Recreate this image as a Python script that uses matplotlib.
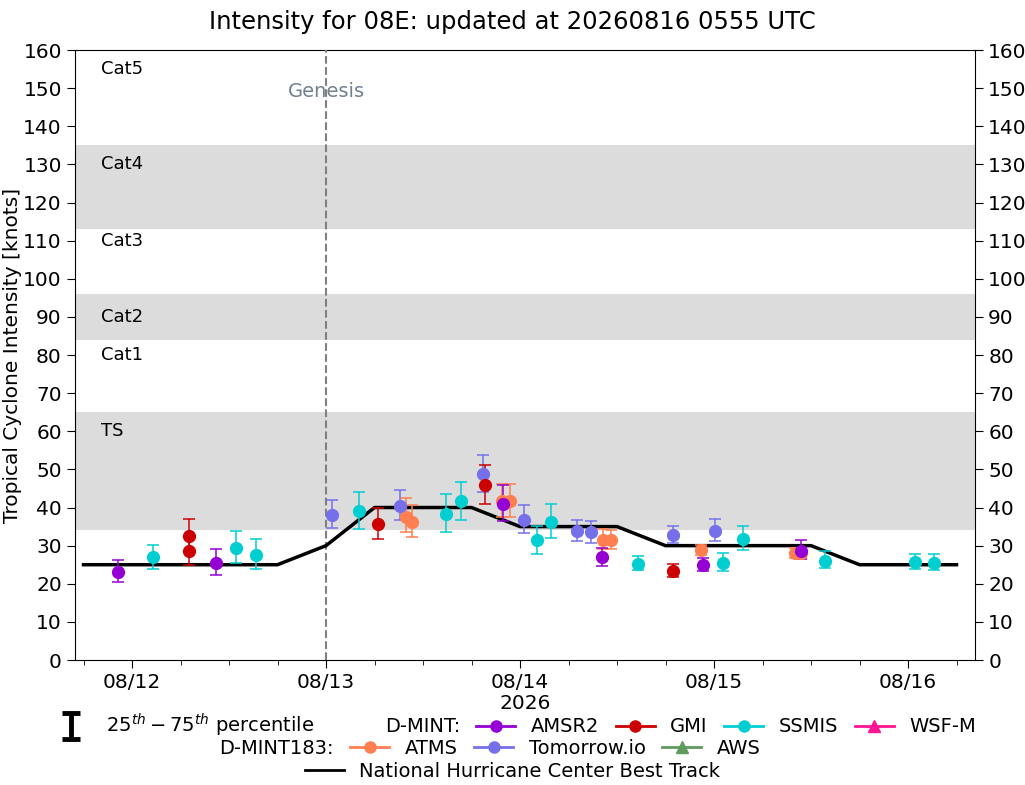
import matplotlib
matplotlib.use("Agg")
import matplotlib.pyplot as plt
import matplotlib.dates as mdates
import numpy as np
import pandas as pd
from matplotlib.lines import Line2D
from matplotlib.path import Path
from matplotlib.transforms import blended_transform_factory

# NHC best track
bt_times = pd.date_range("2026-08-11 18:00", "2026-08-16 06:00", freq="6h")
bt_vmax = [25, 25, 25, 25, 25, 30, 40, 40, 40, 35, 35, 35, 30, 30, 30, 30, 25, 25, 25]

# D-MINT estimates: time, median, 25th, 75th percentile
amsr2_t = ["2026-08-11 22:18", "2026-08-12 10:26", "2026-08-13 21:53",
           "2026-08-14 10:09", "2026-08-14 22:40", "2026-08-15 10:43"]
amsr2_v = [23.0, 25.4, 40.9, 26.9, 24.8, 28.7]
amsr2_lo = [20.4, 22.2, 36.5, 24.6, 23.3, 26.5]
amsr2_hi = [26.2, 29.0, 45.8, 29.5, 26.8, 31.5]

gmi_t = ["2026-08-12 07:05", "2026-08-12 07:05", "2026-08-13 06:28",
         "2026-08-13 19:42", "2026-08-14 18:58"]
gmi_v = [28.5, 32.5, 35.8, 45.9, 23.3]
gmi_lo = [24.8, 28.5, 31.7, 40.9, 21.9]
gmi_hi = [32.5, 37.0, 40.0, 51.1, 25.1]

ssmis_t = ["2026-08-12 02:38", "2026-08-12 12:55", "2026-08-12 15:17",
           "2026-08-13 04:07", "2026-08-13 14:53", "2026-08-13 16:43",
           "2026-08-14 02:08", "2026-08-14 03:52", "2026-08-14 14:38",
           "2026-08-15 01:09", "2026-08-15 03:37", "2026-08-15 13:47",
           "2026-08-16 00:54", "2026-08-16 03:13"]
ssmis_v = [27.0, 29.4, 27.5, 39.1, 38.2, 41.6, 31.5, 36.2, 25.1, 25.4, 31.7, 26.1, 25.6, 25.5]
ssmis_lo = [24.0, 25.4, 23.8, 34.4, 33.5, 36.6, 27.7, 31.9, 23.6, 23.3, 28.8, 24.1, 23.8, 23.6]
ssmis_hi = [30.3, 33.8, 31.7, 44.0, 43.5, 46.6, 35.1, 40.8, 27.2, 28.0, 35.1, 28.5, 27.8, 27.8]

wsfm_t, wsfm_v, wsfm_lo, wsfm_hi = [], [], [], []

# D-MINT183 estimates
atms_t = ["2026-08-13 09:56", "2026-08-13 10:40", "2026-08-13 21:45",
          "2026-08-13 22:48", "2026-08-14 10:19", "2026-08-14 11:15",
          "2026-08-14 22:26", "2026-08-15 10:02", "2026-08-15 10:43"]
atms_v = [37.6, 36.2, 41.8, 41.7, 31.6, 31.5, 28.8, 28.2, 28.0]
atms_lo = [33.5, 32.2, 37.4, 37.4, 29.1, 29.1, 27.5, 26.7, 26.7]
atms_hi = [42.6, 40.6, 46.1, 46.1, 34.3, 34.0, 30.1, 29.5, 29.3]

tio_t = ["2026-08-13 00:47", "2026-08-13 09:11", "2026-08-13 19:25",
         "2026-08-14 00:27", "2026-08-14 07:05", "2026-08-14 08:49",
         "2026-08-14 18:58", "2026-08-15 00:05"]
tio_v = [38.0, 40.3, 48.7, 36.6, 33.8, 33.5, 32.8, 33.8]
tio_lo = [34.5, 36.7, 44.2, 33.2, 31.1, 30.6, 30.7, 31.2]
tio_hi = [42.1, 44.5, 53.8, 40.6, 36.6, 36.4, 35.1, 36.9]

aws_t, aws_v, aws_lo, aws_hi = [], [], [], []

genesis_time = pd.Timestamp("2026-08-13 00:00")

# intensity bands
band_names = ["TS", "Cat1", "Cat2", "Cat3", "Cat4", "Cat5"]
band_lo = [34, 65, 84, 96, 113, 135]
band_hi = [65, 84, 96, 113, 135, 160]
band_label_y = [60, 80, 90, 110, 130, 155]
band_shaded = [True, False, True, False, True, False]

plt.rcParams["font.family"] = ["DejaVu Sans"]

fig = plt.figure(figsize=(10.25, 7.85), dpi=100)
ax = fig.add_axes([0.0732, 0.1592, 0.878, 0.7771])

for lo, hi, shade in zip(band_lo, band_hi, band_shaded):
    if shade:
        ax.axhspan(lo, hi, color="#dcdcdc", zorder=0, lw=0)
lab_tr = blended_transform_factory(ax.transAxes, ax.transData)
for name, yy in zip(band_names, band_label_y):
    ax.text(0.029, yy, name, transform=lab_tr, fontsize=13, va="center", ha="left")

ax.axvline(genesis_time, color="gray", ls="--", lw=1.5, zorder=3)
ax.text(genesis_time, 149, "Genesis", color="slategray", fontsize=14,
        ha="center", va="center", zorder=2)

ax.plot(bt_times, bt_vmax, color="black", lw=2.5, zorder=4)


def draw(times, vals, lo, hi, color, marker):
    if not times:
        return
    t = pd.to_datetime(times)
    v = np.asarray(vals)
    yerr = np.vstack([v - np.asarray(lo), np.asarray(hi) - v])
    ax.errorbar(t, v, yerr=yerr, fmt=marker, color=color, ms=8.5, ecolor=color,
                elinewidth=1.1, capsize=4, capthick=1.1, zorder=5)


draw(atms_t, atms_v, atms_lo, atms_hi, "#FF7F50", "o")
draw(tio_t, tio_v, tio_lo, tio_hi, "#7570EA", "o")
draw(aws_t, aws_v, aws_lo, aws_hi, "#5F9B5F", "^")
draw(amsr2_t, amsr2_v, amsr2_lo, amsr2_hi, "#9400D3", "o")
draw(gmi_t, gmi_v, gmi_lo, gmi_hi, "#CC0000", "o")
draw(ssmis_t, ssmis_v, ssmis_lo, ssmis_hi, "#00CED1", "o")
draw(wsfm_t, wsfm_v, wsfm_lo, wsfm_hi, "#FF1493", "^")

ax.set_xlim(pd.Timestamp("2026-08-11 16:57"), pd.Timestamp("2026-08-16 08:17"))
ax.set_ylim(0, 160)
ax.set_yticks(np.arange(0, 161, 10))
ax.xaxis.set_major_locator(mdates.DayLocator())
ax.xaxis.set_major_formatter(mdates.DateFormatter("%m/%d"))
ax.xaxis.set_minor_locator(mdates.HourLocator(byhour=[6, 12, 18]))
ax.tick_params(axis="both", which="major", labelsize=14.5, length=6)
ax.tick_params(axis="y", right=True, labelright=True)
ax.tick_params(axis="x", which="minor", length=3.5)
ax.set_xlabel("2026", fontsize=14.5, labelpad=1)
ax.set_ylabel("Tropical Cyclone Intensity [knots]", fontsize=14.5)
ax.yaxis.set_label_coords(-0.059, 0.5)
fig.suptitle("Intensity for 08E: updated at 20260816 0555 UTC", fontsize=17.5,
             x=0.5, y=0.972, va="center")

# legend rows
i_path = Path([(-0.7, -1), (0.7, -1), (0, -1), (0, 1), (-0.7, 1), (0.7, 1)],
              [Path.MOVETO, Path.LINETO, Path.MOVETO, Path.LINETO, Path.MOVETO, Path.LINETO])
blank = Line2D([], [], color="none")
pct = Line2D([], [], color="none", marker=i_path, ms=19, mec="black", mew=3.5, mfc="none")


def h(color, marker):
    return Line2D([], [], color=color, lw=2, marker=marker, ms=8)


row1 = [pct, blank, h("#9400D3", "o"), h("#CC0000", "o"), h("#00CED1", "o"), h("#FF1493", "^")]
lab1 = [r"$25^{th}-75^{th}$ percentile", "D-MINT:", "AMSR2", "GMI", "SSMIS", "WSF-M"]
row2 = [blank, h("#FF7F50", "o"), h("#7570EA", "o"), h("#5F9B5F", "^")]
lab2 = ["D-MINT183:", "ATMS", "Tomorrow.io", "AWS"]
row3 = [Line2D([], [], color="black", lw=2)]
lab3 = ["National Hurricane Center Best Track"]

kw = dict(frameon=False, fontsize=14, handlelength=2.0, handletextpad=0.8,
          columnspacing=0.85, borderpad=0, borderaxespad=0)
l1 = fig.legend(row1, lab1, ncol=6, loc="center", bbox_to_anchor=(0.501, 0.076), **kw)
l2 = fig.legend(row2, lab2, ncol=4, loc="center", bbox_to_anchor=(0.4515, 0.047), **kw)
l3 = fig.legend(row3, lab3, ncol=1, loc="center", bbox_to_anchor=(0.5, 0.017), **kw)

fig.savefig("out.png", dpi=100)
